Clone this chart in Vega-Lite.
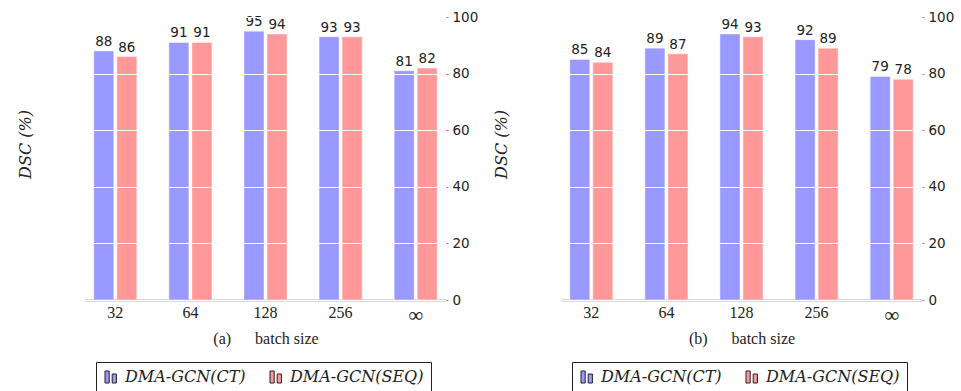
{
  "$schema": "https://vega.github.io/schema/vega-lite/v6.json",
  "padding": {"top": 10, "left": 17, "right": 0, "bottom": 0},
  "background": "white",
  "config": {
    "view": {"stroke": null},
    "axis": {"labelColor": "#222", "titleColor": "#222"}
  },
  "datasets": {
    "rows": [
      {"panel": "a", "batch": "32", "method": "DMA-GCN(CT)", "dsc": 88},
      {"panel": "a", "batch": "32", "method": "DMA-GCN(SEQ)", "dsc": 86},
      {"panel": "a", "batch": "64", "method": "DMA-GCN(CT)", "dsc": 91},
      {"panel": "a", "batch": "64", "method": "DMA-GCN(SEQ)", "dsc": 91},
      {"panel": "a", "batch": "128", "method": "DMA-GCN(CT)", "dsc": 95},
      {"panel": "a", "batch": "128", "method": "DMA-GCN(SEQ)", "dsc": 94},
      {"panel": "a", "batch": "256", "method": "DMA-GCN(CT)", "dsc": 93},
      {"panel": "a", "batch": "256", "method": "DMA-GCN(SEQ)", "dsc": 93},
      {"panel": "a", "batch": "∞", "method": "DMA-GCN(CT)", "dsc": 81},
      {"panel": "a", "batch": "∞", "method": "DMA-GCN(SEQ)", "dsc": 82},
      {"panel": "b", "batch": "32", "method": "DMA-GCN(CT)", "dsc": 85},
      {"panel": "b", "batch": "32", "method": "DMA-GCN(SEQ)", "dsc": 84},
      {"panel": "b", "batch": "64", "method": "DMA-GCN(CT)", "dsc": 89},
      {"panel": "b", "batch": "64", "method": "DMA-GCN(SEQ)", "dsc": 87},
      {"panel": "b", "batch": "128", "method": "DMA-GCN(CT)", "dsc": 94},
      {"panel": "b", "batch": "128", "method": "DMA-GCN(SEQ)", "dsc": 93},
      {"panel": "b", "batch": "256", "method": "DMA-GCN(CT)", "dsc": 92},
      {"panel": "b", "batch": "256", "method": "DMA-GCN(SEQ)", "dsc": 89},
      {"panel": "b", "batch": "∞", "method": "DMA-GCN(CT)", "dsc": 79},
      {"panel": "b", "batch": "∞", "method": "DMA-GCN(SEQ)", "dsc": 78}
    ]
  },
  "resolve": {"scale": {"color": "independent"}, "legend": {"color": "independent"}},
  "spacing": 15,
  "hconcat": [
    {
      "width": 361,
      "height": 283,
      "data": {"name": "rows"},
      "transform": [{"filter": "datum.panel === 'a'"}],
      "encoding": {
        "x": {
          "field": "batch", "type": "nominal", "sort": ["32", "64", "128", "256", "∞"],
          "scale": {"paddingInner": 0.4, "paddingOuter": 0.1035},
          "axis": {
            "title": "(a)\u00a0\u00a0\u00a0\u00a0\u00a0\u00a0batch size", "labelAngle": 0, "ticks": false, "labelPadding": 4,
            "labelFont": "Liberation Serif", "labelFontSize": {"expr": "datum.value === '∞' ? 21 : 16"}, "labelBaseline": "top",
            "titleFont": "Liberation Serif", "titleFontSize": 16,
            "titleFontWeight": "normal", "titlePadding": 5, "domainColor": "#666", "domainWidth": 1.5, "grid": false
          }
        },
        "xOffset": {"field": "method", "type": "nominal", "scale": {"paddingInner": 0.13, "paddingOuter": 0.043}},
        "y": {
          "field": "dsc", "type": "quantitative", "scale": {"domain": [0, 100], "nice": false},
          "axis": {
            "orient": "right", "values": [0, 20, 40, 60, 80, 100], "title": "DSC (%)", "titleAngle": -90,
            "titleX": -413, "titleY": 127, "titleFont": "DejaVu Serif", "titleFontStyle": "italic", "titleFontWeight": "normal", "titleFontSize": 16,
            "labelFont": "DejaVu Sans", "labelFontSize": 13.5, "labelPadding": 4, "tickSize": 2, "tickColor": "#888",
            "domain": false, "grid": true, "gridColor": "white", "gridWidth": 1.2, "zindex": 1
          }
        }
      },
      "layer": [
        {
          "mark": {"type": "bar", "stroke": "white", "strokeOpacity": 0.45, "strokeWidth": 1},
          "encoding": {
            "color": {
              "field": "method", "type": "nominal",
              "scale": {"domain": ["DMA-GCN(CT)", "DMA-GCN(SEQ)"], "range": ["#9999ff", "#ff9999"]},
              "legend": {
                "title": null, "orient": "none", "legendX": 11, "legendY": 345, "direction": "horizontal",
                "strokeColor": "#222", "padding": 7, "labelFont": "DejaVu Serif", "labelFontStyle": "italic",
                "labelFontSize": 16, "labelColor": "#222", "labelOffset": 6, "columnPadding": 22,
                "symbolType": "M-1,-1H-0.3V1H-1Z M0.2,-0.5H0.9V1H0.2Z", "symbolSize": 144,
                "symbolStrokeColor": "#222", "symbolStrokeWidth": 1, "symbolOpacity": 1
              }
            }
          }
        },
        {
          "mark": {"type": "text", "baseline": "alphabetic", "dy": -5, "font": "DejaVu Sans", "fontSize": 13.5, "color": "#222"},
          "encoding": {"text": {"field": "dsc", "type": "quantitative"}}
        }
      ]
    },
    {
      "width": 361,
      "height": 283,
      "data": {"name": "rows"},
      "transform": [{"filter": "datum.panel === 'b'"}],
      "encoding": {
        "x": {
          "field": "batch", "type": "nominal", "sort": ["32", "64", "128", "256", "∞"],
          "scale": {"paddingInner": 0.4, "paddingOuter": 0.1035},
          "axis": {
            "title": "(b)\u00a0\u00a0\u00a0\u00a0\u00a0\u00a0batch size", "labelAngle": 0, "ticks": false, "labelPadding": 4,
            "labelFont": "Liberation Serif", "labelFontSize": {"expr": "datum.value === '∞' ? 21 : 16"}, "labelBaseline": "top",
            "titleFont": "Liberation Serif", "titleFontSize": 16,
            "titleFontWeight": "normal", "titlePadding": 5, "domainColor": "#666", "domainWidth": 1.5, "grid": false
          }
        },
        "xOffset": {"field": "method", "type": "nominal", "scale": {"paddingInner": 0.13, "paddingOuter": 0.043}},
        "y": {
          "field": "dsc", "type": "quantitative", "scale": {"domain": [0, 100], "nice": false},
          "axis": {
            "orient": "right", "values": [0, 20, 40, 60, 80, 100], "title": "DSC (%)", "titleAngle": -90,
            "titleX": -413, "titleY": 127, "titleFont": "DejaVu Serif", "titleFontStyle": "italic", "titleFontWeight": "normal", "titleFontSize": 16,
            "labelFont": "DejaVu Sans", "labelFontSize": 13.5, "labelPadding": 4, "tickSize": 2, "tickColor": "#888",
            "domain": false, "grid": true, "gridColor": "white", "gridWidth": 1.2, "zindex": 1
          }
        }
      },
      "layer": [
        {
          "mark": {"type": "bar", "stroke": "white", "strokeOpacity": 0.45, "strokeWidth": 1},
          "encoding": {
            "color": {
              "field": "method", "type": "nominal",
              "scale": {"domain": ["DMA-GCN(CT)", "DMA-GCN(SEQ)"], "range": ["#9999ff", "#ff9999"]},
              "legend": {
                "title": null, "orient": "none", "legendX": 11, "legendY": 345, "direction": "horizontal",
                "strokeColor": "#222", "padding": 7, "labelFont": "DejaVu Serif", "labelFontStyle": "italic",
                "labelFontSize": 16, "labelColor": "#222", "labelOffset": 6, "columnPadding": 22,
                "symbolType": "M-1,-1H-0.3V1H-1Z M0.2,-0.5H0.9V1H0.2Z", "symbolSize": 144,
                "symbolStrokeColor": "#222", "symbolStrokeWidth": 1, "symbolOpacity": 1
              }
            }
          }
        },
        {
          "mark": {"type": "text", "baseline": "alphabetic", "dy": -5, "font": "DejaVu Sans", "fontSize": 13.5, "color": "#222"},
          "encoding": {"text": {"field": "dsc", "type": "quantitative"}}
        }
      ]
    }
  ]
}
